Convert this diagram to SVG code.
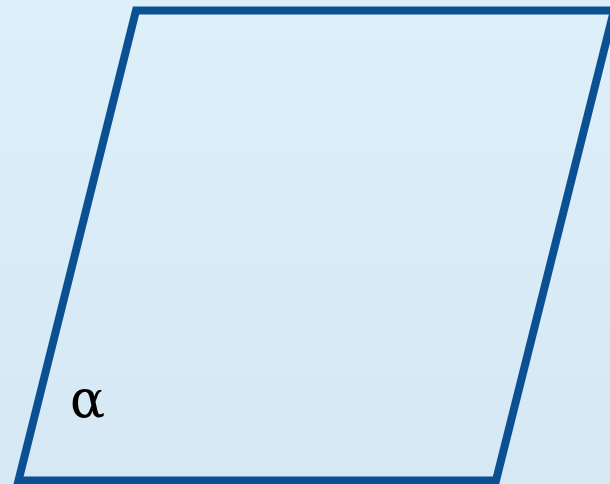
<svg xmlns="http://www.w3.org/2000/svg" width="610" height="484" viewBox="0 0 610 484">
  <defs>
    <linearGradient id="bg" x1="0" y1="0" x2="0" y2="1">
      <stop offset="0" stop-color="#ddeff9"/>
      <stop offset="1" stop-color="#d6e8f3"/>
    </linearGradient>
    <style>
      .plane { fill: none; stroke: #0a5093; stroke-width: 8; stroke-linejoin: miter; }
      .lbl { font-family: "DejaVu Serif", "Liberation Serif", serif; font-size: 52px; fill: #000; }
    </style>
  </defs>
  <rect x="0" y="0" width="610" height="484" fill="url(#bg)"/>
  <g id="plane-alpha">
    <polygon class="plane" points="136,10.5 614,10.5 496,480.5 18.5,480.5"/>
    <text class="lbl" x="70" y="417">α</text>
  </g>
</svg>
